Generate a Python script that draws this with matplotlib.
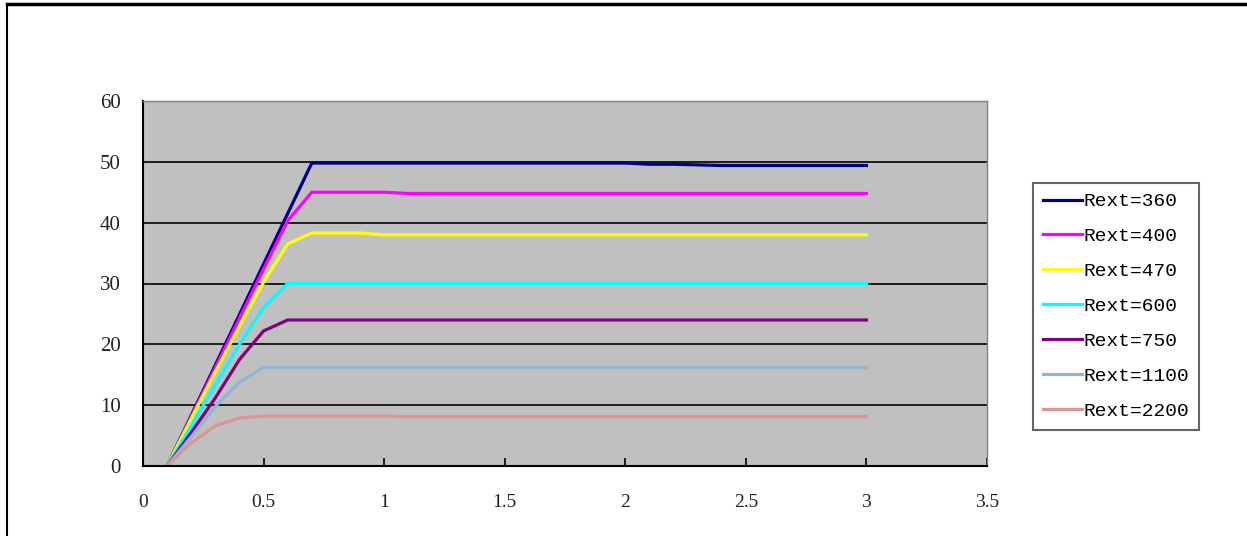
import matplotlib
matplotlib.use("Agg")
import matplotlib.pyplot as plt
from matplotlib.lines import Line2D

x_vals = [0.1, 0.2, 0.3, 0.4, 0.5, 0.6, 0.7, 0.8, 0.9, 1.0,
          1.1, 1.2, 1.3, 1.4, 1.5, 1.6, 1.7, 1.8, 1.9, 2.0,
          2.1, 2.2, 2.3, 2.4, 2.5, 2.6, 2.7, 2.8, 2.9, 3.0]

labels = ["Rext=360", "Rext=400", "Rext=470", "Rext=600",
          "Rext=750", "Rext=1100", "Rext=2200"]

rext_360 = [0, 8.3, 16.6, 24.9, 33.2, 41.5, 49.8, 49.8, 49.8, 49.8,
            49.8, 49.8, 49.8, 49.8, 49.8, 49.8, 49.8, 49.8, 49.8, 49.8,
            49.6, 49.6, 49.5, 49.4, 49.4, 49.4, 49.4, 49.4, 49.4, 49.4]
rext_400 = [0, 8.1, 16.2, 24.3, 32.4, 40.3, 45.0, 45.0, 45.0, 45.0,
            44.8, 44.8, 44.8, 44.8, 44.8, 44.8, 44.8, 44.8, 44.8, 44.8,
            44.8, 44.8, 44.8, 44.8, 44.8, 44.8, 44.8, 44.8, 44.8, 44.8]
rext_470 = [0, 7.8, 15.5, 23.0, 30.2, 36.5, 38.3, 38.3, 38.3, 38.0,
            38.0, 38.0, 38.0, 38.0, 38.0, 38.0, 38.0, 38.0, 38.0, 38.0,
            38.0, 38.0, 38.0, 38.0, 38.0, 38.0, 38.0, 38.0, 38.0, 38.0]
rext_600 = [0, 6.6, 13.3, 20.0, 26.0, 30.0, 30.0, 30.0, 30.0, 30.0,
            30.0, 30.0, 30.0, 30.0, 30.0, 30.0, 30.0, 30.0, 30.0, 30.0,
            30.0, 30.0, 30.0, 30.0, 30.0, 30.0, 30.0, 30.0, 30.0, 30.0]
rext_750 = [0, 5.5, 11.2, 17.5, 22.2, 24.0, 24.0, 24.0, 24.0, 24.0,
            24.0, 24.0, 24.0, 24.0, 24.0, 24.0, 24.0, 24.0, 24.0, 24.0,
            24.0, 24.0, 24.0, 24.0, 24.0, 24.0, 24.0, 24.0, 24.0, 24.0]
rext_1100 = [0, 4.8, 9.8, 13.8, 16.2, 16.2, 16.2, 16.2, 16.2, 16.2,
             16.2, 16.2, 16.2, 16.2, 16.2, 16.2, 16.2, 16.2, 16.2, 16.2,
             16.2, 16.2, 16.2, 16.2, 16.2, 16.2, 16.2, 16.2, 16.2, 16.2]
rext_2200 = [0, 3.8, 6.6, 7.9, 8.2, 8.2, 8.2, 8.2, 8.2, 8.2,
             8.1, 8.1, 8.1, 8.1, 8.1, 8.1, 8.1, 8.1, 8.1, 8.1,
             8.1, 8.1, 8.1, 8.1, 8.1, 8.1, 8.1, 8.1, 8.1, 8.1]

series = [rext_360, rext_400, rext_470, rext_600, rext_750, rext_1100, rext_2200]
colors = ["#000080", "#FF00FF", "#FFFF00", "#00FFFF", "#800080", "#95B3D7", "#D99694"]

x_ticks = [0, 0.5, 1, 1.5, 2, 2.5, 3, 3.5]
x_ticklabels = ["0", "0.5", "1", "1.5", "2", "2.5", "3", "3.5"]
y_ticks = [0, 10, 20, 30, 40, 50, 60]
y_ticklabels = ["0", "10", "20", "30", "40", "50", "60"]

W, H = 1247, 536
fig = plt.figure(figsize=(W / 100, H / 100), dpi=100)
fig.patch.set_facecolor("white")

ax = fig.add_axes([143 / W, 1 - 466 / H, (987 - 143) / W, (466 - 101) / H])
ax.set_facecolor("#C0C0C0")

for ys, c, lab in zip(series, colors, labels):
    ax.plot(x_vals, ys, color=c, lw=2.3, label=lab, solid_joinstyle="miter")

ax.set_xlim(0, 3.5)
ax.set_ylim(0, 60)
ax.set_xticks(x_ticks)
ax.set_xticklabels(x_ticklabels, fontfamily="Liberation Serif", fontsize=14,
                   color="#222222")
ax.set_yticks(y_ticks)
ax.set_yticklabels(y_ticklabels, fontfamily="Liberation Serif", fontsize=15,
                   color="#222222")
ax.tick_params(axis="x", direction="in", length=6, width=1.2, pad=20, colors="black")
ax.tick_params(axis="y", length=0, pad=16)
for t in ax.get_xticklabels() + ax.get_yticklabels():
    t.set_color("#222222")
ax.yaxis.grid(True, color="black", lw=1.2)
ax.set_axisbelow(True)

for side in ["left", "bottom"]:
    ax.spines[side].set_color("black")
    ax.spines[side].set_linewidth(1.5)
for side in ["top", "right"]:
    ax.spines[side].set_color("#808080")
    ax.spines[side].set_linewidth(1.0)

leg = fig.legend(loc="upper left", bbox_to_anchor=(1033 / W, 1 - 183 / H),
                 prop={"family": "Liberation Mono", "size": 14},
                 frameon=True, fancybox=False, edgecolor="#404040",
                 handlelength=2.0, handletextpad=0.12, labelspacing=0.89,
                 borderpad=0.5, borderaxespad=0)
leg.get_frame().set_linewidth(1.5)
for l in leg.get_lines():
    l.set_linewidth(2.3)

fig.add_artist(Line2D([7 / W, 7 / W], [0, 1 - 4 / H], transform=fig.transFigure,
                      color="black", lw=1.5))
fig.add_artist(Line2D([7 / W, 1], [1 - 4 / H, 1 - 4 / H], transform=fig.transFigure,
                      color="black", lw=2.5))

fig.savefig("out.png", dpi=100)
